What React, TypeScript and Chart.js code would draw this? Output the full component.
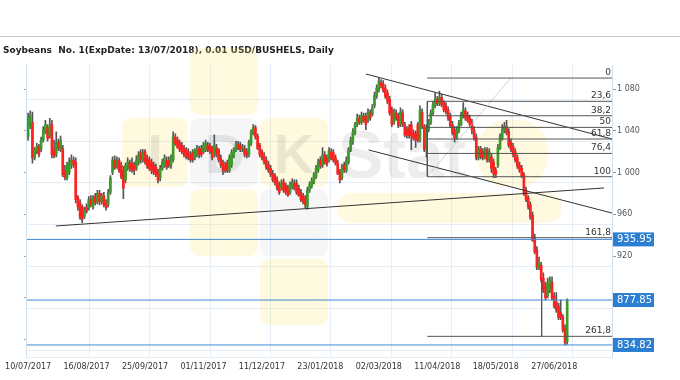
import React, { useEffect, useRef } from 'react';
import { Chart, registerables } from 'chart.js';
Chart.register(...registerables);

const chartTitle = 'Soybeans  No. 1(ExpDate: 13/07/2018), 0.01 USD/BUSHELS, Daily';

const dateTickIndex = [0, 27, 54, 81, 108, 135, 162, 189, 216, 243];
const dateTickLabels = ['10/07/2017', '16/08/2017', '25/09/2017', '01/11/2017', '11/12/2017', '23/01/2018', '02/03/2018', '11/04/2018', '18/05/2018', '27/06/2018'];
const gridIndex = [28.3, 56.2, 84.1, 112, 139.9, 167.8, 195.7, 223.6, 251.5];

const opens = [
  1034, 1044, 1048, 1014, 1020, 1025, 1022, 1031, 1039, 1043,
  1035, 1046, 1022, 1017, 1029, 1022, 1023, 1002, 995, 1000,
  1007, 1012, 1010, 976, 971, 967, 958, 967, 966, 974,
  967, 977, 972, 980, 972, 978, 971, 969, 981, 1000,
  1012, 1007, 1012, 1007, 1002, 993, 1004, 1009, 1009, 1007,
  1004, 1009, 1019, 1012, 1020, 1014, 1012, 1010, 1007, 1005,
  1000, 995, 1004, 1007, 1012, 1012, 1007, 1012, 1034, 1031,
  1028, 1026, 1023, 1022, 1020, 1017, 1019, 1014, 1017, 1023,
  1023, 1020, 1022, 1026, 1026, 1023, 1017, 1024, 1022, 1014,
  1010, 1007, 1009, 1002, 1007, 1016, 1022, 1027, 1026, 1022,
  1023, 1020, 1017, 1028, 1038, 1043, 1035, 1026, 1020, 1016,
  1012, 1008, 1004, 999, 997, 993, 988, 985, 991, 987,
  985, 981, 986, 990, 990, 985, 981, 978, 976, 967,
  983, 987, 991, 996, 1002, 1012, 1007, 1017, 1014, 1012,
  1020, 1019, 1014, 1009, 1000, 995, 1007, 1002, 1010, 1022,
  1029, 1038, 1046, 1052, 1048, 1054, 1054, 1050, 1057, 1056,
  1064, 1073, 1079, 1086, 1085, 1081, 1076, 1070, 1060, 1048,
  1057, 1054, 1046, 1057, 1046, 1041, 1043, 1046, 1038, 1037,
  1046, 1031, 1058, 1044, 1022, 1041, 1048, 1057, 1064, 1070,
  1066, 1072, 1067, 1064, 1060, 1054, 1046, 1041, 1034, 1040,
  1046, 1054, 1059, 1055, 1052, 1048, 1041, 1034, 1014, 1023,
  1020, 1015, 1021, 1012, 1015, 1010, 1002, 1007, 1023, 1033,
  1040, 1044, 1039, 1029, 1025, 1020, 1014, 1007, 1004, 998,
  983, 976, 969, 959, 938, 926, 909, 911, 899, 892,
  882, 887, 895, 882, 876, 872, 866, 862, 851, 838,
];
const highs = [
  1057, 1059, 1058, 1024, 1028, 1027, 1034, 1044, 1050, 1046,
  1052, 1050, 1031, 1039, 1032, 1035, 1026, 1007, 1010, 1014,
  1017, 1015, 1014, 978, 974, 969, 967, 970, 977, 978,
  978, 980, 983, 983, 980, 981, 974, 984, 997, 1015,
  1016, 1015, 1014, 1010, 1006, 1009, 1014, 1012, 1014, 1010,
  1016, 1020, 1022, 1022, 1022, 1017, 1015, 1013, 1010, 1008,
  1003, 1007, 1013, 1017, 1015, 1015, 1017, 1039, 1037, 1034,
  1031, 1029, 1026, 1024, 1023, 1020, 1022, 1023, 1026, 1025,
  1026, 1029, 1031, 1029, 1028, 1025, 1036, 1027, 1023, 1017,
  1012, 1010, 1012, 1017, 1022, 1024, 1030, 1030, 1029, 1027,
  1026, 1023, 1031, 1041, 1046, 1045, 1037, 1028, 1022, 1019,
  1015, 1011, 1007, 1002, 999, 996, 991, 993, 994, 990,
  988, 991, 994, 993, 993, 988, 984, 980, 978, 986,
  991, 995, 1000, 1007, 1013, 1015, 1024, 1020, 1017, 1024,
  1023, 1022, 1017, 1012, 1003, 1008, 1010, 1015, 1024, 1034,
  1042, 1048, 1056, 1055, 1058, 1057, 1057, 1061, 1060, 1065,
  1077, 1084, 1090.5, 1089, 1088, 1084, 1079, 1073, 1063, 1061,
  1060, 1057, 1062, 1060, 1048, 1044, 1046, 1049, 1041, 1040,
  1048, 1064, 1061, 1046, 1046, 1051, 1060, 1068, 1076, 1073,
  1078, 1075, 1069, 1067, 1063, 1057, 1049, 1044, 1044, 1050,
  1058, 1067, 1062, 1058, 1055, 1051, 1044, 1037, 1025, 1025,
  1023, 1024, 1024, 1023, 1018, 1013, 1005, 1027, 1037, 1046,
  1048, 1050, 1042, 1032, 1028, 1023, 1017, 1010, 1007, 1000,
  986, 978, 972, 962, 941, 929, 919, 914, 904, 895,
  899, 900, 900, 885, 885, 875, 878, 864, 854, 879,
];
const lows = [
  1031, 1042, 1009, 1012, 1018, 1015, 1020, 1029, 1037, 1030,
  1033, 1014, 1014, 1015, 1021, 1020, 996, 993, 993, 998,
  1004, 1005, 971, 964, 955, 952, 956, 961, 964, 967,
  965, 969, 970, 969, 970, 967, 964, 967, 979, 998,
  1003, 1004, 1000, 994, 975, 990, 1002, 1001, 1000, 998,
  1002, 1007, 1009, 1010, 1008, 1004, 1002, 999, 998, 996,
  990, 992, 1002, 1005, 1003, 1005, 1004, 1010, 1026, 1023,
  1020, 1018, 1015, 1013, 1012, 1010, 1010, 1012, 1015, 1014,
  1015, 1018, 1020, 1020, 1018, 1012, 1015, 1015, 1010, 1005,
  998, 1000, 1000, 1000, 1005, 1014, 1020, 1022, 1020, 1020,
  1015, 1014, 1015, 1026, 1036, 1032, 1022, 1015, 1012, 1008,
  1003, 1000, 996, 991, 988, 983, 979, 983, 981, 979,
  977, 979, 984, 983, 979, 977, 972, 970, 966, 965,
  981, 985, 989, 994, 1000, 1004, 1005, 1008, 1006, 1010,
  1012, 1010, 1007, 998, 990, 993, 1000, 1000, 1008, 1020,
  1027, 1036, 1044, 1046, 1046, 1048, 1041, 1048, 1050, 1054,
  1062, 1071, 1077, 1081, 1077, 1071, 1066, 1055, 1044, 1046,
  1050, 1043, 1044, 1044, 1034, 1033, 1033, 1022, 1031, 1024,
  1029, 1029, 1042, 1020, 1015, 1039, 1046, 1055, 1062, 1064,
  1064, 1063, 1058, 1056, 1050, 1043, 1036, 1029, 1032, 1038,
  1045, 1052, 1050, 1048, 1044, 1037, 1031, 1012, 1012, 1013,
  1012, 1013, 1010, 1010, 1000, 995, 995, 1005, 1022, 1031,
  1038, 1036, 1024, 1020, 1015, 1010, 1004, 1000, 995, 978,
  972, 965, 955, 934, 922, 907, 907, 895, 885, 878,
  880, 885, 878, 870, 866, 859, 859, 847, 834.82, 835.5,
];
const closes = [
  1052, 1055, 1014, 1022, 1025, 1017, 1031, 1041, 1046, 1033,
  1045, 1017, 1016, 1029, 1023, 1031, 998, 995, 1007, 1010,
  1012, 1008, 974, 967, 957, 955, 964, 963, 974, 969,
  976, 971, 980, 972, 978, 969, 966, 981, 995, 1012,
  1005, 1012, 1002, 996, 985, 1007, 1010, 1004, 1002, 1002,
  1012, 1017, 1012, 1019, 1010, 1006, 1004, 1002, 1000, 998,
  993, 1004, 1010, 1014, 1005, 1007, 1014, 1034, 1028, 1024,
  1022, 1020, 1017, 1015, 1014, 1012, 1012, 1022, 1023, 1017,
  1017, 1026, 1028, 1022, 1020, 1014, 1026, 1017, 1012, 1007,
  1002, 1002, 1002, 1014, 1019, 1022, 1027, 1023, 1022, 1024,
  1017, 1016, 1029, 1039, 1043, 1034, 1023, 1017, 1014, 1010,
  1005, 1002, 998, 993, 990, 985, 981, 990, 983, 981,
  978, 988, 991, 985, 981, 978, 974, 972, 969, 983,
  988, 992, 998, 1004, 1010, 1006, 1017, 1010, 1008, 1021,
  1014, 1012, 1009, 999, 993, 1005, 1002, 1012, 1022, 1031,
  1039, 1046, 1052, 1048, 1055, 1050, 1046, 1058, 1052, 1062,
  1074, 1081, 1087, 1083, 1079, 1073, 1068, 1057, 1046, 1058,
  1052, 1045, 1058, 1046, 1036, 1036, 1035, 1035, 1033, 1031,
  1031, 1060, 1044, 1022, 1043, 1048, 1057, 1065, 1070, 1066,
  1072, 1065, 1060, 1058, 1052, 1045, 1038, 1033, 1041, 1047,
  1055, 1060, 1052, 1050, 1046, 1041, 1033, 1014, 1023, 1015,
  1014, 1022, 1012, 1020, 1004, 999, 998, 1024, 1034, 1041,
  1044, 1038, 1026, 1022, 1017, 1012, 1006, 1002, 997, 980,
  974, 967, 957, 935, 924, 909, 914, 897, 887, 880,
  894, 897, 880, 872, 868, 861, 861, 849, 837, 877.85,
];

const rightTicks = [920, 960, 1000, 1040, 1080];
const leftTicks = [840, 880, 920, 960, 1000, 1040, 1080];
const gridPrices = [830, 870, 910, 950, 990, 1030, 1070];
const levelPrices = [935.95, 877.85, 834.82];

const fibLabels = ['0', '23,6', '38,2', '50', '61,8', '76,4', '100', '161,8', '261,8'];
const fibPrices = [1090.5, 1068.2, 1054.4, 1043.25, 1032.1, 1018.3, 996, 937.6, 843.1];
const fibStart = 184.4;

const supportLine = [{ x: 12.8, y: 948.8 }, { x: 266, y: 985.2 }];
const channelUpper = [{ x: 156, y: 1094.4 }, { x: 269.7, y: 1032.1 }];
const channelLower = [{ x: 157.3, y: 1021.6 }, { x: 269.7, y: 961.2 }];
const fibVertical = [{ x: 184.4, y: 1068.2 }, { x: 184.4, y: 996 }];
const fibDiagonal = [{ x: 184.4, y: 996 }, { x: 222.9, y: 1090.5 }];
const rulerVertical = [{ x: 237.2, y: 897 }, { x: 237.2, y: 843.1 }];

const X_MIN = -0.6;
const X_MAX = 269.7;
const Y_MIN = 823.3;
const Y_MAX = 1103;

const FONT = '"DejaVu Sans", Verdana, sans-serif';
const BOX_BLUE = '#2b7fd3';

const lineDs = (data: any[], color: string, width = 1) => ({
  type: 'line' as const,
  data,
  borderColor: color,
  borderWidth: width,
  pointRadius: 0,
  tension: 0,
  fill: false,
  xAxisID: 'x',
  yAxisID: 'y',
  order: -1,
});

const isLevel = (v: number) => levelPrices.indexOf(v) >= 0;
const tickIsLevel = (c: any) => !!(c && c.tick && isLevel(c.tick.value));

const decorPlugin = {
  id: 'decor',
  beforeDraw(chart: any) {
    const { ctx } = chart;
    ctx.save();
    ctx.fillStyle = '#ffffff';
    ctx.fillRect(0, 0, chart.width, chart.height);
    ctx.strokeStyle = '#cccccc';
    ctx.lineWidth = 1;
    ctx.beginPath();
    ctx.moveTo(0, 36.5);
    ctx.lineTo(chart.width, 36.5);
    ctx.stroke();
    ctx.fillStyle = '#222';
    ctx.font = 'bold 9px ' + FONT;
    ctx.textAlign = 'left';
    ctx.textBaseline = 'alphabetic';
    ctx.fillText(chartTitle, 3, 53);
    ctx.restore();
  },
  beforeDatasetsDraw(chart: any) {
    const { ctx, chartArea } = chart;
    ctx.save();
    ctx.beginPath();
    ctx.rect(chartArea.left, 40, chartArea.right - chartArea.left, chartArea.bottom - 40);
    ctx.clip();
    const yellow = 'rgba(250,226,110,0.22)';
    const gray = 'rgba(0,0,0,0.035)';
    const rr = (x1: number, y1: number, x2: number, y2: number, r: number, c: string) => {
      ctx.fillStyle = c;
      ctx.beginPath();
      ctx.roundRect(x1, y1, x2 - x1, y2 - y1, r);
      ctx.fill();
    };
    rr(122, 118, 188, 187, 9, yellow);
    rr(190, 48, 258, 115, 9, yellow);
    rr(190, 118, 258, 187, 9, gray);
    rr(260, 118, 328, 187, 9, yellow);
    rr(190, 189, 258, 256, 9, yellow);
    rr(260, 189, 328, 256, 9, gray);
    rr(260, 259, 328, 325, 9, yellow);
    rr(477, 120, 548, 187, 30, yellow);
    rr(337, 193, 562, 223, 15, yellow);
    ctx.fillStyle = 'rgba(0,0,0,0.08)';
    ctx.font = 'bold 56px "Liberation Sans", Arial, sans-serif';
    ctx.textAlign = 'center';
    ctx.textBaseline = 'alphabetic';
    ctx.fillText('I', 155, 173);
    ctx.fillText('D', 225, 173);
    ctx.fillText('K', 294, 173);
    ctx.fillStyle = 'rgba(0,0,0,0.07)';
    ctx.font = 'bold 68px "Liberation Sans", Arial, sans-serif';
    ctx.textAlign = 'left';
    ctx.fillText('Stat', 338, 178);
    ctx.restore();
  },
  afterDatasetsDraw(chart: any) {
    const { ctx, scales, chartArea } = chart;
    const y = scales.y;
    ctx.save();
    ctx.fillStyle = '#333';
    ctx.font = '9px ' + FONT;
    ctx.textAlign = 'right';
    ctx.textBaseline = 'bottom';
    fibPrices.forEach((p, k) => {
      ctx.fillText(fibLabels[k], chartArea.right - 1, y.getPixelForValue(p) - 1);
    });
    ctx.restore();
  },
};

export default function App() {
  const ref = useRef<HTMLCanvasElement>(null);
  useEffect(() => {
    Chart.defaults.font.family = FONT;
    const bodies = opens.map((o, i) => ({ x: i, y: [o, closes[i]] }));
    const wicks = highs.map((h, i) => ({ x: i, y: [lows[i], h] }));
    const full = (p: number) => [{ x: X_MIN, y: p }, { x: X_MAX, y: p }];
    const fibSeg = (p: number) => [{ x: fibStart, y: p }, { x: X_MAX, y: p }];
    const datasets: any[] = [
      ...levelPrices.map((p) => lineDs(full(p), '#3f88d2', 1)),
      ...fibPrices.map((p) => lineDs(fibSeg(p), '#555', 1)),
      lineDs(fibVertical, '#555', 1),
      lineDs(rulerVertical, '#555', 1),
      lineDs(fibDiagonal, '#c8c8c8', 0.8),
      lineDs(supportLine, '#333', 1),
      lineDs(channelUpper, '#333', 1),
      lineDs(channelLower, '#333', 1),
      {
        type: 'bar',
        data: bodies,
        backgroundColor: (c: any) => {
          const i = c.dataIndex;
          return closes[i] >= opens[i] ? '#3b9a28' : '#ff2020';
        },
        barThickness: 2,
        minBarLength: 1,
        grouped: false,
        xAxisID: 'x',
        yAxisID: 'y',
        order: 1,
      },
      {
        type: 'bar',
        data: wicks,
        backgroundColor: '#555',
        barThickness: 1,
        grouped: false,
        xAxisID: 'x',
        yAxisID: 'y',
        order: 2,
      },
    ];
    const gridColor = '#e4eef8';
    const chart = new Chart(ref.current!, {
      type: 'bar',
      data: { datasets },
      plugins: [decorPlugin],
      options: {
        responsive: false,
        maintainAspectRatio: false,
        animation: false,
        layout: { padding: { left: 20, top: 65, right: 0, bottom: 0 } },
        plugins: { legend: { display: false }, tooltip: { enabled: false }, title: { display: false } },
        scales: {
          x: {
            type: 'linear',
            position: 'bottom',
            min: X_MIN,
            max: X_MAX,
            offset: false,
            afterBuildTicks: (s: any) => { s.ticks = dateTickIndex.map((v) => ({ value: v })); },
            afterFit: (s: any) => { s.height = 23; },
            ticks: {
              autoSkip: false,
              maxRotation: 0,
              padding: 5,
              color: '#333',
              font: { size: 8, family: FONT },
              callback: (v: any) => {
                const k = dateTickIndex.indexOf(Number(v));
                return k >= 0 ? dateTickLabels[k] : '';
              },
            },
            grid: { display: false, drawTicks: false, offset: false },
            border: { display: true, color: gridColor },
          },
          xg: {
            type: 'linear',
            position: 'top',
            min: X_MIN,
            max: X_MAX,
            offset: false,
            afterBuildTicks: (s: any) => { s.ticks = gridIndex.map((v) => ({ value: v })); },
            afterFit: (s: any) => { s.height = 0; },
            ticks: { display: false, autoSkip: false },
            grid: { color: gridColor, drawTicks: false, offset: false },
            border: { display: false },
          },
          y: {
            type: 'linear',
            position: 'right',
            min: Y_MIN,
            max: Y_MAX,
            afterBuildTicks: (s: any) => {
              s.ticks = [...levelPrices, ...rightTicks].map((v) => ({ value: v }));
            },
            afterFit: (s: any) => { s.width = 68; },
            ticks: {
              autoSkip: false,
              padding: 1,
              color: (c: any) => (tickIsLevel(c) ? '#ffffff' : '#555'),
              font: (c: any) => (tickIsLevel(c) ? { size: 10, family: FONT } : { size: 8, family: FONT }),
              showLabelBackdrop: (c: any) => tickIsLevel(c),
              backdropColor: (c: any) => (tickIsLevel(c) ? BOX_BLUE : 'rgba(0,0,0,0)'),
              backdropPadding: { top: 1, bottom: 1, left: 4, right: 2 },
              callback: (v: any) => {
                const n = Number(v);
                if (isLevel(n)) return n.toFixed(2);
                return n >= 1000 ? Math.floor(n / 1000) + ' ' + String(n % 1000).padStart(3, '0') : String(n);
              },
            },
            grid: { drawOnChartArea: false, tickLength: 4, color: '#999' },
            border: { display: true, color: '#cfe0f1' },
          },
          yl: {
            type: 'linear',
            position: 'left',
            weight: 0,
            min: Y_MIN,
            max: Y_MAX,
            afterBuildTicks: (s: any) => { s.ticks = leftTicks.map((v) => ({ value: v })); },
            afterFit: (s: any) => { s.width = 3; },
            ticks: { display: false, autoSkip: false },
            grid: { drawOnChartArea: false, tickLength: 3, color: '#aaa' },
            border: { display: true, color: '#cfe0f1' },
          },
          yg: {
            type: 'linear',
            position: 'left',
            weight: 1,
            min: Y_MIN,
            max: Y_MAX,
            afterBuildTicks: (s: any) => { s.ticks = gridPrices.map((v) => ({ value: v })); },
            afterFit: (s: any) => { s.width = 0; },
            ticks: { display: false, autoSkip: false },
            grid: { color: gridColor, drawTicks: false },
            border: { display: false },
          },
        },
      } as any,
    });
    return () => chart.destroy();
  }, []);
  return (
    <div style={{ position: 'fixed', left: 0, top: 0, width: 680, height: 380, background: '#fff' }}>
      <canvas ref={ref} width={680} height={380} style={{ display: 'block', width: 680, height: 380 }} />
    </div>
  );
}
